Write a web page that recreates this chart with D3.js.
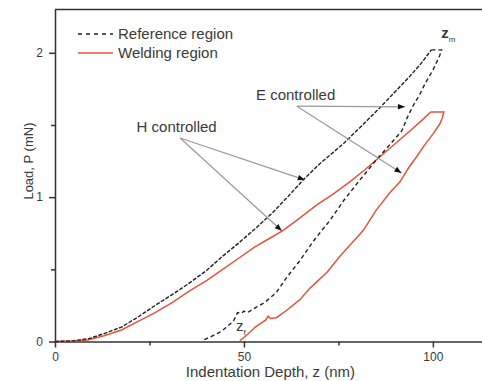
<!DOCTYPE html>
<html>
<head>
<meta charset="utf-8">
<script src="https://cdn.jsdelivr.net/npm/d3@7"></script>
<style>
  html, body { margin: 0; padding: 0; background: #fff; }
  svg { display: block; font-family: "Liberation Sans", Arial, sans-serif; }
</style>
</head>
<body>
<div id="chart"></div>
<script>
// indentation depth z (nm), load P (mN)
const refLoading = [
  [0, 0], [5, 0.005], [9, 0.02], [13, 0.055], [17.6, 0.10], [22, 0.17], [26.5, 0.25],
  [31, 0.325], [35.3, 0.40], [40, 0.49], [44.1, 0.585], [48.5, 0.68], [52.9, 0.78],
  [57.5, 0.89], [61.5, 1.00], [65.7, 1.12], [70, 1.23], [76.3, 1.37], [81, 1.49],
  [86, 1.62], [90, 1.73], [94, 1.84], [97, 1.93], [99.6, 2.02]
];
const refUnloading = [
  [99.6, 2.02], [102.3, 2.02], [101.8, 1.98], [100, 1.88], [98, 1.79], [96.5, 1.71],
  [94.7, 1.63], [93.2, 1.55], [91.8, 1.46], [88.5, 1.36], [85.1, 1.26], [80.7, 1.12],
  [76.5, 0.98], [72.8, 0.84], [68.5, 0.70], [64.8, 0.56], [61.5, 0.45], [58.6, 0.34],
  [55.5, 0.27], [53.4, 0.24], [51.6, 0.21], [50.8, 0.20], [50, 0.21], [49.3, 0.195],
  [48.3, 0.20], [47.2, 0.14], [44, 0.07], [41, 0.03], [39.2, 0.01]
];
const weldLoading = [
  [0, 0], [5, 0.003], [8.7, 0.01], [13, 0.04], [17.6, 0.08], [22, 0.14], [26.5, 0.20],
  [31, 0.27], [35.3, 0.345], [40, 0.42], [44.1, 0.495], [48.5, 0.575], [52.9, 0.655],
  [56.5, 0.71], [60.4, 0.77], [65, 0.86], [69.2, 0.945], [73.5, 1.02], [78, 1.106],
  [82, 1.19], [86, 1.28], [90, 1.37], [94, 1.46], [97, 1.53], [99.4, 1.59]
];
const weldUnloading = [
  [99.4, 1.59], [102.9, 1.59], [102.5, 1.55], [101.9, 1.51], [100.1, 1.44], [97.5, 1.35],
  [95.7, 1.28], [93.5, 1.20], [91.3, 1.106], [88.6, 1.03], [85, 0.91], [81.6, 0.77],
  [78.5, 0.68], [75.4, 0.59], [72, 0.48], [67.5, 0.37], [64.8, 0.29], [61.5, 0.22],
  [58.6, 0.165], [57, 0.16], [56.4, 0.175], [55.8, 0.15], [53, 0.10], [51, 0.05], [48.9, 0.005]
];

const xTicks = [0, 50, 100];
const xMinorTicks = [25, 75];
const yTicks = [0, 1, 2];
const yMinorTicks = [0.5, 1.5];

const legendItems = ['Reference region', 'Welding region'];

// annotation: label anchor and arrow tips, in data units
const eLabel = { text: 'E controlled', at: [53.2, 1.675], from: [64, 1.63], tips: [[92.6, 1.626], [91.7, 1.168]] };
const hLabel = { text: 'H controlled', at: [21.6, 1.45], from: [33.1, 1.41], tips: [[66.1, 1.12], [60, 0.767]] };

const width = 482, height = 381;
const margin = { top: 9.5, right: 0, bottom: 39.5, left: 55 };

const svg = d3.select('#chart').append('svg')
  .attr('width', width)
  .attr('height', height);

const x = d3.scaleLinear().domain([0, 113]).range([margin.left, width - margin.right]);
const y = d3.scaleLinear().domain([0, 2.3]).range([height - margin.bottom, margin.top]);

const axisColor = '#333';
const textColor = '#3a3a3a';

svg.append('defs').append('marker')
  .attr('id', 'arr')
  .attr('viewBox', '0 0 10 10')
  .attr('refX', 10).attr('refY', 5)
  .attr('markerWidth', 9).attr('markerHeight', 7)
  .attr('markerUnits', 'userSpaceOnUse')
  .attr('orient', 'auto')
  .append('path')
  .attr('d', 'M0,1 L10,5 L0,9 Z')
  .attr('fill', '#111');

// axes
svg.append('g')
  .attr('transform', `translate(0,${y(0)})`)
  .call(d3.axisBottom(x).tickValues(xTicks).tickSize(6).tickSizeOuter(0).tickPadding(5));
const xMinor = svg.append('g')
  .attr('transform', `translate(0,${y(0)})`)
  .call(d3.axisBottom(x).tickValues(xMinorTicks).tickSize(4).tickSizeOuter(0).tickFormat(''));
xMinor.select('.domain').remove();

svg.append('g')
  .attr('transform', `translate(${x(0)},0)`)
  .call(d3.axisLeft(y).tickValues(yTicks).tickSize(6).tickSizeOuter(0).tickPadding(6).tickFormat(d3.format('d')));
const yMinor = svg.append('g')
  .attr('transform', `translate(${x(0)},0)`)
  .call(d3.axisLeft(y).tickValues(yMinorTicks).tickSize(4).tickSizeOuter(0).tickFormat(''));
yMinor.select('.domain').remove();

svg.selectAll('.domain, .tick line').attr('stroke', axisColor).attr('stroke-width', 1.5);
svg.selectAll('.tick text').attr('fill', textColor).style('font-size', '12px')
  .style('font-family', '"Liberation Sans", Arial, sans-serif');

// top frame line
svg.append('line')
  .attr('x1', x(0)).attr('x2', width)
  .attr('y1', y(2.3)).attr('y2', y(2.3))
  .attr('stroke', axisColor).attr('stroke-width', 1.5);

// axis titles
svg.append('text')
  .attr('x', (x(0) + width) / 2 + 2).attr('y', 377)
  .attr('text-anchor', 'middle')
  .attr('fill', textColor).style('font-size', '15px')
  .text('Indentation Depth, z (nm)');

svg.append('text')
  .attr('transform', `translate(33,${y(1.25)}) rotate(-90)`)
  .attr('text-anchor', 'middle')
  .attr('fill', textColor).style('font-size', '13px')
  .text('Load, P (mN)');

// curves
const line = d3.line().x(d => x(d[0])).y(d => y(d[1]));

svg.append('path').datum(weldLoading)
  .attr('d', line).attr('fill', 'none')
  .attr('stroke', '#e2553b').attr('stroke-width', 1.5);
svg.append('path').datum(weldUnloading)
  .attr('d', line).attr('fill', 'none')
  .attr('stroke', '#e2553b').attr('stroke-width', 1.5);

svg.append('path').datum(refLoading)
  .attr('d', line).attr('fill', 'none')
  .attr('stroke', '#222').attr('stroke-width', 1.4)
  .attr('stroke-dasharray', '4,1.5');
svg.append('path').datum(refUnloading)
  .attr('d', line).attr('fill', 'none')
  .attr('stroke', '#222').attr('stroke-width', 1.4)
  .attr('stroke-dasharray', '4,3');

// annotations
[eLabel, hLabel].forEach(a => {
  svg.append('text')
    .attr('x', x(a.at[0])).attr('y', y(a.at[1]))
    .attr('fill', textColor).style('font-size', '15px')
    .text(a.text);
  a.tips.forEach(t => {
    svg.append('line')
      .attr('x1', x(a.from[0])).attr('y1', y(a.from[1]))
      .attr('x2', x(t[0])).attr('y2', y(t[1]))
      .attr('stroke', '#9a9a9a').attr('stroke-width', 1.2)
      .attr('marker-end', 'url(#arr)');
  });
});

// z_m and z_f labels
const zm = svg.append('text')
  .attr('x', x(102.2)).attr('y', y(2.1))
  .attr('fill', textColor).style('font-size', '15px').style('font-weight', 'bold');
zm.append('tspan').text('z');
zm.append('tspan').attr('dy', 4).style('font-size', '8px').style('font-weight', 'normal').text('m');

const zf = svg.append('text')
  .attr('x', x(47.9)).attr('y', y(0.07))
  .attr('fill', textColor).style('font-size', '15px');
zf.append('tspan').text('z');
zf.append('tspan').attr('dy', 4).style('font-size', '8px').text('f');

// legend
const legend = svg.append('g').attr('transform', 'translate(78,34)');
legendItems.forEach((name, i) => {
  const g = legend.append('g').attr('transform', `translate(0,${i * 19})`);
  g.append('line')
    .attr('x1', 0).attr('x2', 35)
    .attr('stroke', i === 0 ? '#222' : '#e2553b')
    .attr('stroke-width', 1.4)
    .attr('stroke-dasharray', i === 0 ? '4,4' : null);
  g.append('text')
    .attr('x', 40).attr('y', 5)
    .attr('fill', textColor).style('font-size', '15px')
    .text(name);
});
</script>
</body>
</html>
